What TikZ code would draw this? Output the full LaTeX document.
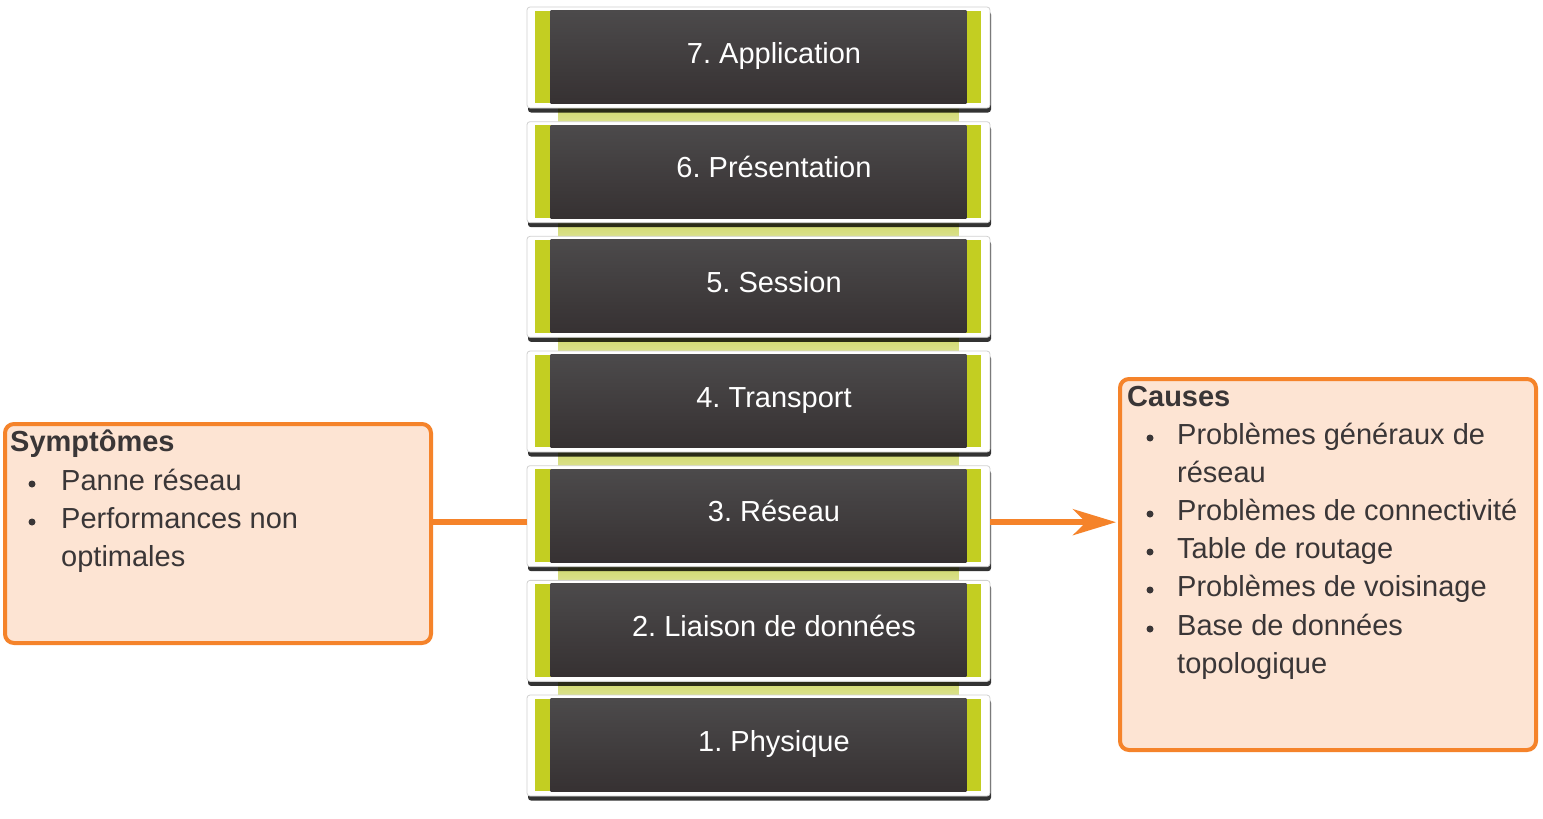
\documentclass[tikz,border=0pt]{standalone}
\usepackage{fontspec}
\setmainfont{Liberation Sans}
\frenchspacing
\usetikzlibrary{arrows.meta,calc,shadows}
\definecolor{lime}{HTML}{C3CE22}
\definecolor{darktop}{HTML}{4C4A4B}
\definecolor{darkbot}{HTML}{363132}
\definecolor{orng}{HTML}{F5832A}
\definecolor{peach}{HTML}{FDE4D3}
\definecolor{txt}{HTML}{3A3637}
\definecolor{bartop}{HTML}{CFD86C}
\definecolor{barbot}{HTML}{DCE28E}
\pgfdeclarelayer{background}
\pgfsetlayers{background,main}
\begin{document}
\frenchspacing
\begin{tikzpicture}[x=1pt,y=-1pt,
  frame/.style={minimum width=463pt,minimum height=101pt,inner sep=0pt,fill=white,draw=black!18,line width=0.8pt,rounded corners=3pt,
    drop shadow={shadow xshift=1pt,shadow yshift=-4.5pt,opacity=.8,fill=black}},
  ltext/.style={text=white,font=\fontsize{29}{35}\selectfont,anchor=base,inner sep=0pt},
  obox/.style={draw=orng,line width=4pt,fill=peach,rounded corners=9pt,inner sep=0pt},
  otitle/.style={text=txt,font=\fontsize{29}{35}\selectfont\bfseries,anchor=base west,inner sep=0pt},
  otext/.style={text=txt,font=\fontsize{29}{35}\selectfont,anchor=base west,inner sep=0pt},
  bul/.style={circle,fill=txt,minimum size=7pt,inner sep=0pt},
  conn/.style={draw=orng,line width=5.5pt},
  barfill/.style={top color=bartop,bottom color=barbot}
]
\useasboundingbox (0,0) rectangle (1543,819);
\begin{pgfonlayer}{background}
\fill[white] (0,0) rectangle (1543,819);
\end{pgfonlayer}

% layers
\foreach \k/\lab/\nm in {0/7. Application/L7,1/6. Présentation/L6,2/5. Session/L5,3/4. Transport/L4,4/3. Réseau/L3,5/2. Liaison de données/L2,6/1. Physique/L1}{
  \pgfmathsetmacro\t{7+114.67*\k}
  \node[frame] (\nm) at (758.5,\t+50.5) {};
  \fill[lime] ($(\nm.north west)+(8,4)$) rectangle ($(\nm.south east)+(-9,-5)$);
  \shade[top color=darktop,bottom color=darkbot] ($(\nm.north west)+(24,4)$) rectangle ($(\nm.south east)+(-24,-5)$);
  \node[ltext] (T\nm) at (774,\t+56) {\lab};
}

% connecting bars between layers
\begin{pgfonlayer}{background}
\foreach \a/\b in {L7/L6,L6/L5,L5/L4,L4/L3,L3/L2,L2/L1}{
  \shade[barfill] ($(\a.south west)+(32,-2)$) rectangle ($(\b.north east)+(-32,2)$);
}
\end{pgfonlayer}

% symptoms box
\node[obox,minimum width=426pt,minimum height=219pt] (S) at (218,533.5) {};
\node[otitle] (St) at (10,451) {Symptômes};
\node[bul] (Sb1) at (32,484) {};
\node[otext] (S1) at (61,490) {Panne réseau};
\node[bul] (Sb2) at (32,522) {};
\node[otext] (S2) at (61,528) {Performances non};
\node[otext] (S3) at (61,566) {optimales};

% causes box
\node[obox,minimum width=416pt,minimum height=371pt] (C) at (1328,564.5) {};
\node[otitle] (Ct) at (1127,406) {Causes};
\node[bul] (Cb1) at (1150,438) {};
\node[otext] (C1) at (1177,444) {Problèmes généraux de};
\node[otext] (C1b) at (1177,482) {réseau};
\node[bul] (Cb2) at (1150,514) {};
\node[otext] (C2) at (1177,520) {Problèmes de connectivité};
\node[bul] (Cb3) at (1150,552) {};
\node[otext] (C3) at (1177,558) {Table de routage};
\node[bul] (Cb4) at (1150,590) {};
\node[otext] (C4) at (1177,596) {Problèmes de voisinage};
\node[bul] (Cb5) at (1150,629) {};
\node[otext] (C5) at (1177,635) {Base de données};
\node[otext] (C5b) at (1177,673) {topologique};

% connectors
\coordinate (j) at ($(L3.west)+(0,6)$);
\draw[conn] (S.east |- j) -- (L3.west |- j);
\draw[conn,-{Stealth[length=43pt,width=26pt,inset=13pt]}] (L3.east |- j) -- ([xshift=-2pt]C.west |- j);
\end{tikzpicture}
\end{document}
